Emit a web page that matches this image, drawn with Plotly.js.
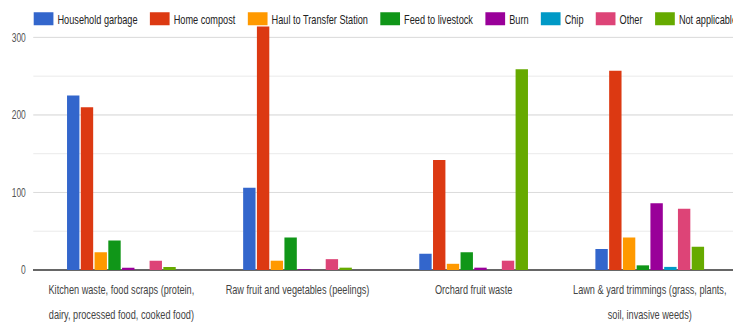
<!DOCTYPE html>
<html>
<head>
<meta charset="utf-8">
<script src="https://cdn.plot.ly/plotly-3.0.1.min.js"></script>
<style>
html,body{margin:0;padding:0;background:#fff;overflow:hidden;width:733px;height:324px;}
#chart{width:1110px;height:324px;transform:scaleX(0.68);transform-origin:0 0;}
</style>
</head>
<body>
<div id="chart"></div>
<script>
const categories = [
  "Kitchen waste, food scraps (protein,<br>dairy, processed food, cooked food)",
  "Raw fruit and vegetables (peelings)",
  "Orchard fruit waste",
  "Lawn & yard trimmings (grass, plants,<br>soil, invasive weeds)"
];
const seriesNames = ["Household garbage","Home compost","Haul to Transfer Station","Feed to livestock","Burn","Chip","Other","Not applicable"];
const householdGarbage = [225, 106, 21, 27];
const homeCompost = [210, 314, 142, 257];
const haulToTransfer = [23, 12, 8, 42];
const feedToLivestock = [38, 42, 23, 6];
const burn = [3, 1, 3, 86];
const chip = [0, 0, 0, 4];
const other = [12, 14, 12, 79];
const notApplicable = [4, 3, 259, 30];
const yTickVals = [0, 100, 200, 300];
const yTickText = ["0", "100", "200", "300"];

const allValues = [householdGarbage, homeCompost, haulToTransfer, feedToLivestock, burn, chip, other, notApplicable];
const colors = ["#3366cc","#dc3912","#ff9900","#109618","#990099","#0099c6","#dd4477","#66aa00"];
const FONT = "Arial, 'Liberation Sans', sans-serif";

const tickText = categories.map(c => '<span style="font-size:13.5px">' + c + '</span>');
const xIdx = categories.map((c, i) => i);

const traces = allValues.map((vals, i) => ({
  type: 'bar',
  name: seriesNames[i],
  x: xIdx,
  y: vals,
  marker: {color: colors[i], line: {width: 0}},
  hoverinfo: 'x+y+name'
}));

const layout = {
  width: 1110, height: 324,
  margin: {l: 49, r: 25, t: 25, b: 54, pad: 0, autoexpand: false},
  paper_bgcolor: '#fff', plot_bgcolor: '#fff',
  font: {family: FONT, size: 13.5, color: '#444'},
  barmode: 'group',
  bargap: 0.375,
  bargroupgap: 0.1,
  showlegend: true,
  legend: {
    orientation: 'h', x: -0.012, xanchor: 'left', y: 1.088, yanchor: 'top',
    font: {family: FONT, size: 13.5, color: '#222'},
    itemwidth: 38, bgcolor: 'rgba(0,0,0,0)', borderwidth: 0
  },
  xaxis: {
    type: 'linear',
    range: [-0.5, 3.5],
    tickvals: xIdx,
    ticktext: tickText,
    tickangle: 0,
    tickfont: {family: FONT, size: 19, color: '#444'},
    ticklabelstandoff: 4,
    showgrid: false, zeroline: false, showline: false,
    ticks: '', automargin: false
  },
  yaxis: {
    range: [0, 316],
    tickvals: yTickVals,
    ticktext: yTickText,
    tickfont: {family: FONT, size: 12.5, color: '#555'},
    ticklabelstandoff: 10,
    showgrid: true, gridcolor: '#d9d9d9', gridwidth: 1,
    minor: {dtick: 50, tick0: 0, showgrid: true, gridcolor: '#e6e6e6', gridwidth: 1},
    zeroline: true, zerolinecolor: '#666', zerolinewidth: 2,
    ticks: '', showline: false, automargin: false
  }
};

Plotly.newPlot('chart', traces, layout, {displayModeBar: false, responsive: false, staticPlot: true}).then(function(gd){
  // widen legend swatches to match the reference's rectangular keys
  gd.querySelectorAll('.legend .legendpoints path').forEach(function(p){
    p.setAttribute('d', 'M18,6.5H-11V-6.5H18Z');
  });
});
</script>
</body>
</html>
